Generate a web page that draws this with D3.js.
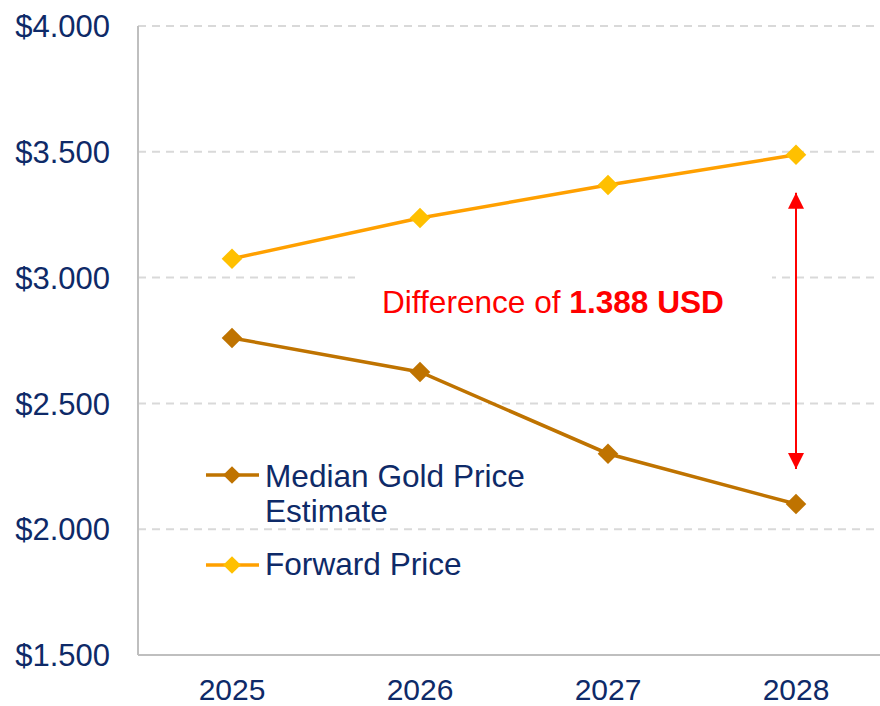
<!DOCTYPE html>
<html>
<head>
<meta charset="utf-8">
<script src="https://cdn.jsdelivr.net/npm/d3@7"></script>
<style>
  body { margin: 0; background: #fff; }
  text { font-family: Arial, "Liberation Sans", sans-serif; }
</style>
</head>
<body>
<script>
// chart data
const years = ["2025", "2026", "2027", "2028"];
const medianEstimate = [2760, 2625, 2300, 2100];
const forwardPrice = [3075, 3237, 3368, 3488];
const yTicks = [1500, 2000, 2500, 3000, 3500, 4000];
const seriesNames = ["Median Gold Price Estimate", "Forward Price"];

const width = 880, height = 706;
const navy = "#0E2A68";
const medianColor = "#BF7300";
const forwardLine = "#FFA000";
const forwardMarker = "#FFC000";

let svg = d3.select("body").append("svg")
    .attr("width", width)
    .attr("height", height)
    .attr("viewBox", [0, 0, width, height]);

let x = d3.scalePoint()
    .domain(years)
    .range([138, 890])
    .padding(0.5);

let y = d3.scaleLinear()
    .domain([1500, 4000])
    .range([655, 26]);

let locale = d3.formatLocale({
    decimal: ",",
    thousands: ".",
    grouping: [3],
    currency: ["$", ""]
});
let fmt = locale.format("$,");

// gridlines
svg.append("g")
    .selectAll("line")
    .data(yTicks.filter(d => d !== 1500))
    .join("line")
    .attr("x1", 138)
    .attr("x2", width)
    .attr("y1", d => y(d))
    .attr("y2", d => y(d))
    .attr("stroke", "#D9D9D9")
    .attr("stroke-width", 2)
    .attr("stroke-dasharray", "8,6");

// axis lines
svg.append("line")
    .attr("x1", 138).attr("x2", 138)
    .attr("y1", y(4000)).attr("y2", y(1500))
    .attr("stroke", "#BFBFBF")
    .attr("stroke-width", 2);
svg.append("line")
    .attr("x1", 138).attr("x2", width)
    .attr("y1", y(1500)).attr("y2", y(1500))
    .attr("stroke", "#BFBFBF")
    .attr("stroke-width", 2);

// y tick labels
svg.append("g")
    .selectAll("text")
    .data(yTicks)
    .join("text")
    .attr("x", 110)
    .attr("y", d => y(d))
    .attr("dy", "0.36em")
    .attr("text-anchor", "end")
    .attr("font-size", 31)
    .attr("fill", navy)
    .text(d => fmt(d));

// x tick labels
svg.append("g")
    .selectAll("text")
    .data(years)
    .join("text")
    .attr("x", d => x(d))
    .attr("y", 700)
    .attr("text-anchor", "middle")
    .attr("font-size", 30)
    .attr("fill", navy)
    .text(d => d);

// annotation box (hides gridline behind text)
svg.append("rect")
    .attr("x", 355)
    .attr("y", 262)
    .attr("width", 417)
    .attr("height", 66)
    .attr("fill", "#fff");

let note = svg.append("text")
    .attr("x", 382)
    .attr("y", 313)
    .attr("font-size", 31.6)
    .attr("fill", "#FF0000");
note.append("tspan").text("Difference of ");
note.append("tspan").attr("font-weight", "bold")
    .text(d3.format(",")(forwardPrice[3] - medianEstimate[3]).replace(",", ".") + " USD");

// double arrow
let defs = svg.append("defs");
defs.append("marker")
    .attr("id", "arrowhead")
    .attr("viewBox", "0 -5 10 10")
    .attr("refX", 10)
    .attr("refY", 0)
    .attr("orient", "auto-start-reverse")
    .attr("markerUnits", "userSpaceOnUse")
    .attr("markerWidth", 16)
    .attr("markerHeight", 16)
    .append("path")
    .attr("d", "M0,-5 L10,0 L0,5 Z")
    .attr("fill", "#FF0000");

svg.append("line")
    .attr("x1", x("2028")).attr("x2", x("2028"))
    .attr("y1", y(forwardPrice[3]) + 38)
    .attr("y2", y(medianEstimate[3]) - 35)
    .attr("stroke", "#FF0000")
    .attr("stroke-width", 2)
    .attr("marker-start", "url(#arrowhead)")
    .attr("marker-end", "url(#arrowhead)");

// series
let series = [
    { name: seriesNames[0], values: medianEstimate, line: medianColor, fill: medianColor },
    { name: seriesNames[1], values: forwardPrice, line: forwardLine, fill: forwardMarker }
];

let line = d3.line()
    .x((d, i) => x(years[i]))
    .y(d => y(d));

let diamond = d3.symbol().type(d3.symbolDiamond2).size(270);

series.forEach(s => {
    svg.append("path")
        .attr("d", line(s.values))
        .attr("fill", "none")
        .attr("stroke", s.line)
        .attr("stroke-width", 3.5);
    svg.append("g")
        .selectAll("path")
        .data(s.values)
        .join("path")
        .attr("d", diamond)
        .attr("transform", (d, i) => "translate(" + x(years[i]) + "," + y(d) + ")")
        .attr("fill", s.fill);
});

// legend
let legendY = [475, 565];
let legendBase = [487, 575];
series.forEach((s, i) => {
    let g = svg.append("g");
    g.append("line")
        .attr("x1", 206).attr("x2", 259)
        .attr("y1", legendY[i]).attr("y2", legendY[i])
        .attr("stroke", s.line)
        .attr("stroke-width", 3.5);
    g.append("path")
        .attr("d", d3.symbol().type(d3.symbolDiamond2).size(200))
        .attr("transform", "translate(232," + legendY[i] + ")")
        .attr("fill", s.fill);
    let t = g.append("text")
        .attr("x", 265)
        .attr("y", legendBase[i])
        .attr("font-size", 31.6)
        .attr("fill", navy);
    if (i === 0) {
        t.append("tspan").attr("x", 265).text("Median Gold Price");
        t.append("tspan").attr("x", 265).attr("dy", 35).text("Estimate");
    } else {
        t.text(s.name);
    }
});
</script>
</body>
</html>
